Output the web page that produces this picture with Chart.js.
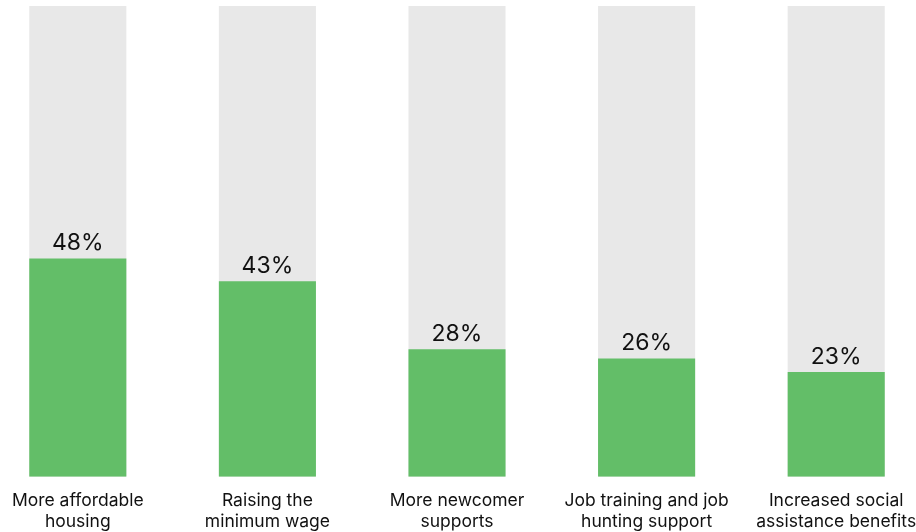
<!DOCTYPE html>
<html>
<head>
<meta charset="utf-8">
<script src="https://cdn.jsdelivr.net/npm/chart.js@4/dist/chart.umd.min.js"></script>
<style>
  html, body { margin: 0; padding: 0; background: #fff; overflow: hidden; }
  /* the plot is a little wider than the page, so the outer category slots spill off both sides */
  #wrap { position: absolute; left: -17px; top: 0; width: 948px; height: 540px; }
</style>
</head>
<body>
<div id="wrap"><canvas id="myChart"></canvas></div>
<script>
const categories = [
    ['More affordable', 'housing'],
    ['Raising the', 'minimum wage'],
    ['More newcomer', 'supports'],
    ['Job training and job', 'hunting support'],
    ['Increased social', 'assistance benefits']
];
const shares = [48, 43, 28, 26, 23]; // percent of respondents
const TRACK_MAX = 103.5; // top of the grey track, in % units
const track = shares.map(() => TRACK_MAX);

const GREEN = '#63be68';
const GREY = '#e8e8e8';

// writes "48%" etc. just above each green bar
const valueLabels = {
    id: 'valueLabels',
    afterDatasetsDraw(chart) {
        const ctx = chart.ctx;
        const meta = chart.getDatasetMeta(0);
        ctx.save();
        ctx.font = '23px Inter, "DejaVu Sans", sans-serif';
        ctx.fillStyle = '#111';
        ctx.textAlign = 'center';
        ctx.textBaseline = 'alphabetic';
        meta.data.forEach((bar, i) => {
            ctx.fillText(shares[i] + '%', bar.x, bar.y - 8);
        });
        ctx.restore();
    }
};

const ctx = document.getElementById('myChart').getContext('2d');

const myChart = new Chart(ctx, {
    type: 'bar',
    data: {
        labels: categories,
        datasets: [{
            label: 'Share',
            data: shares,
            backgroundColor: GREEN,
            grouped: false,
            categoryPercentage: 1,
            barPercentage: 0.512
        }, {
            label: 'Track',
            data: track,
            backgroundColor: GREY,
            grouped: false,
            categoryPercentage: 1,
            barPercentage: 0.512
        }]
    },
    options: {
        responsive: true,
        maintainAspectRatio: false,
        animation: false,
        layout: {
            padding: { top: 6, bottom: 2, left: 0, right: 0 }
        },
        plugins: {
            legend: { display: false },
            tooltip: { enabled: false }
        },
        scales: {
            x: {
                grid: { display: false },
                border: { display: false },
                ticks: {
                    color: '#111',
                    padding: 6,
                    maxRotation: 0,
                    autoSkip: false,
                    font: { family: 'Inter, "DejaVu Sans", sans-serif', size: 17.5, lineHeight: 1.18 }
                }
            },
            y: {
                display: false,
                min: 0,
                max: TRACK_MAX
            }
        }
    },
    plugins: [valueLabels]
});
</script>
</body>
</html>
